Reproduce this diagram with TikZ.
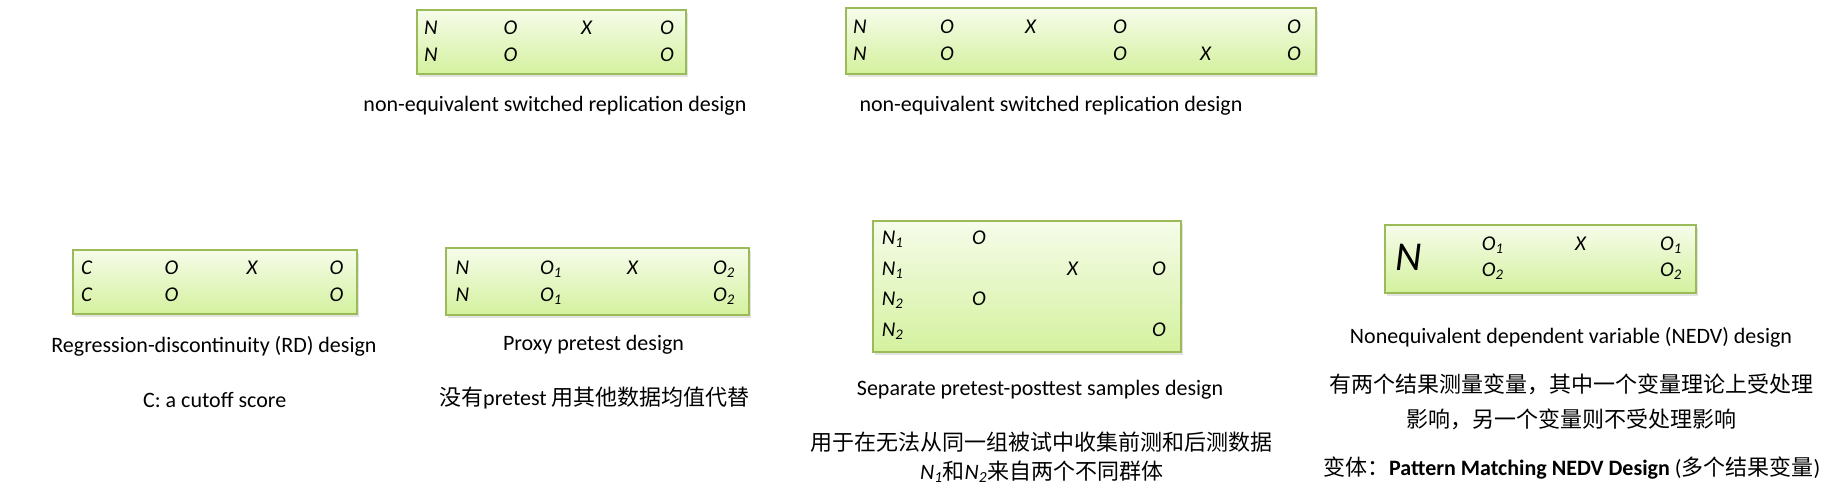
\documentclass[tikz,border=0pt]{standalone}
\usepackage{fontspec}
\setmainfont{Carlito}
\newfontfamily\cjk{Noto Sans CJK SC}
\usetikzlibrary{shadows}
\definecolor{boxline}{RGB}{155,187,89}
\definecolor{boxtop}{RGB}{246,252,234}
\definecolor{boxbot}{RGB}{212,241,158}
\tikzset{
  dbox/.style={draw=boxline, line width=2pt, top color=boxtop, bottom color=boxbot,
    inner sep=0pt, anchor=north west,
    drop shadow={shadow xshift=2pt, shadow yshift=-3pt, opacity=0.22}},
  cell/.style={inner sep=0pt, anchor=base west, font=\fontsize{21}{25}\selectfont\itshape},
  bign/.style={inner sep=0pt, anchor=base west, font=\fontsize{41}{45}\selectfont\itshape},
  capt/.style={inner sep=0pt, font=\fontsize{22}{26}\selectfont, align=center},
  cjkt/.style={inner sep=0pt, font=\fontsize{22}{29}\selectfont, align=center},
}
\newcommand{\sbs}[1]{\textsubscript{#1}}
\begin{document}
\begin{tikzpicture}[x=1pt,y=-1pt]
\useasboundingbox (0,0) rectangle (1838,496);

% ---------- top left box ----------
\node[dbox, minimum width=269pt, minimum height=64.5pt] (boxA) at (415.5,8.8) {};
\node[cell] (a11) at (424,34.5) {N};
\node[cell] (a12) at (503.5,34.5) {O};
\node[cell] (a13) at (581,34.5) {X};
\node[cell] (a14) at (660,34.5) {O};
\node[cell] (a21) at (424,61.5) {N};
\node[cell] (a22) at (503.5,61.5) {O};
\node[cell] (a24) at (660,61.5) {O};
\node[capt] (capA) at (555,106) {non-equivalent switched replication design};

% ---------- top right box ----------
\node[dbox, minimum width=470pt, minimum height=65.5pt] (boxB) at (845,7.3) {};
\node[cell] (b11) at (853,33.5) {N};
\node[cell] (b12) at (940,33.5) {O};
\node[cell] (b13) at (1025,33.5) {X};
\node[cell] (b14) at (1113,33.5) {O};
\node[cell] (b16) at (1287,33.5) {O};
\node[cell] (b21) at (853,60) {N};
\node[cell] (b22) at (940,60) {O};
\node[cell] (b24) at (1113,60) {O};
\node[cell] (b25) at (1200,60) {X};
\node[cell] (b26) at (1287,60) {O};
\node[capt] (capB) at (1051,106) {non-equivalent switched replication design};

% ---------- RD box ----------
\node[dbox, minimum width=284.6pt, minimum height=64pt] (boxC) at (71.6,248.7) {};
\node[cell] (c11) at (81,274.5) {C};
\node[cell] (c12) at (164.5,274.5) {O};
\node[cell] (c13) at (246.5,274.5) {X};
\node[cell] (c14) at (329.5,274.5) {O};
\node[cell] (c21) at (81,301) {C};
\node[cell] (c22) at (164.5,301) {O};
\node[cell] (c24) at (329.5,301) {O};
\node[capt] (capC) at (214,346) {Regression-discontinuity (RD) design};
\node[capt] (capC2) at (214.7,400) {C: a cutoff score};

% ---------- Proxy box ----------
\node[dbox, minimum width=303.2pt, minimum height=66.7pt] (boxD) at (444.8,247) {};
\node[cell] (d11) at (455.3,274.5) {N};
\node[cell] (d12) at (540,274.5) {O\sbs{1}};
\node[cell] (d13) at (627,274.5) {X};
\node[cell] (d14) at (713,274.5) {O\sbs{2}};
\node[cell] (d21) at (455.3,301) {N};
\node[cell] (d22) at (540,301) {O\sbs{1}};
\node[cell] (d24) at (713,301) {O\sbs{2}};
\node[capt] (capD) at (593.5,345) {Proxy pretest design};
\node[cjkt] (capD2) at (594.5,397.7) {{\cjk 没有}pretest {\cjk 用其他数据均值代替}};

% ---------- Separate samples box ----------
\node[dbox, minimum width=308.3pt, minimum height=131pt] (boxE) at (871.7,220) {};
\node[cell] (e11) at (881.7,244.2) {N\sbs{1}};
\node[cell] (e12) at (972,244.2) {O};
\node[cell] (e21) at (881.7,275.5) {N\sbs{1}};
\node[cell] (e23) at (1067,275.5) {X};
\node[cell] (e24) at (1152,275.5) {O};
\node[cell] (e31) at (881.7,305) {N\sbs{2}};
\node[cell] (e32) at (972,305) {O};
\node[cell] (e41) at (881.7,336.7) {N\sbs{2}};
\node[cell] (e44) at (1152,336.7) {O};
\node[capt] (capE) at (1040,389.3) {Separate pretest-posttest samples design};
\node[cjkt] (capE2) at (1041,441.7) {{\cjk 用于在无法从同一组被试中收集前测和后测数据}};
\node[cjkt] (capE3) at (1041.7,471.7) {\textit{N}\sbs{\textit{1}}{\cjk 和}\textit{N}\sbs{\textit{2}}{\cjk 来自两个不同群体}};

% ---------- NEDV box ----------
\node[dbox, minimum width=311pt, minimum height=67.4pt] (boxF) at (1384,224.3) {};
\node[bign] (f0) at (1395,270) {N};
\node[cell] (f11) at (1481.7,250) {O\sbs{1}};
\node[cell] (f13) at (1575,250) {X};
\node[cell] (f14) at (1660,250) {O\sbs{1}};
\node[cell] (f21) at (1481.7,276) {O\sbs{2}};
\node[cell] (f24) at (1660,276) {O\sbs{2}};
\node[capt] (capF) at (1571,337.7) {Nonequivalent dependent variable (NEDV) design};
\node[cjkt] (capF2) at (1571,384.3) {{\cjk 有两个结果测量变量，其中一个变量理论上受处理}};
\node[cjkt] (capF3) at (1571,419.3) {{\cjk 影响，另一个变量则不受处理影响}};
\node[cjkt] (capF4) at (1571.7,467.7) {{\cjk 变体：}\textbf{Pattern Matching NEDV Design} ({\cjk 多个结果变量})};
\end{tikzpicture}
\end{document}
